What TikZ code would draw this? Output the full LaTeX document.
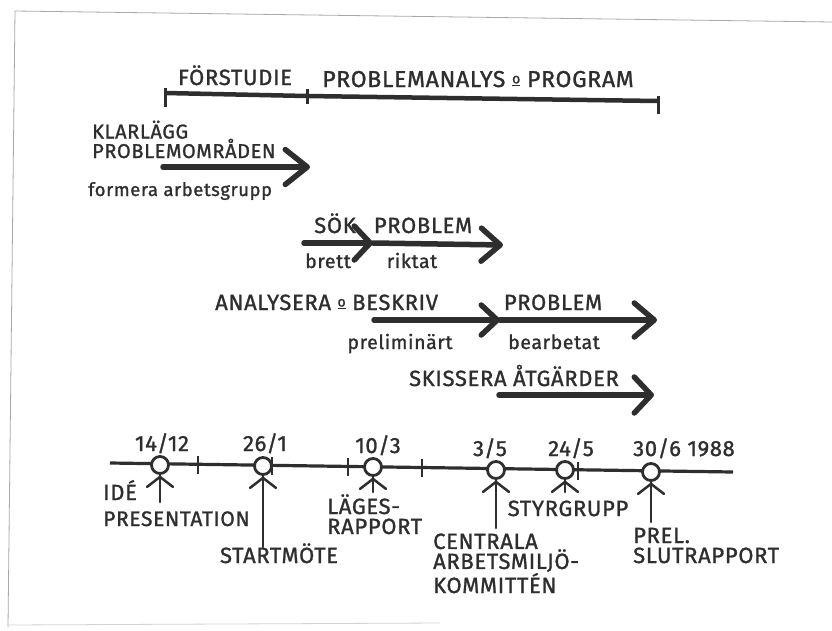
\documentclass[tikz,border=0pt]{standalone}
\usepackage{fontspec}
\setmainfont{Fira Sans}
\newfontfamily\handfont{Fira Sans}[FakeBold=1.2, LetterSpace=3]
\usetikzlibrary{arrows.meta}
\definecolor{ink}{HTML}{2E2E2E}
\definecolor{frame}{HTML}{A8A8A8}
\newcommand{\ochmark}{\raisebox{0.3ex}{\underline{\fontsize{14}{14}\selectfont o}}}
\tikzset{
  lbl/.style={inner sep=0pt, text=ink, font=\handfont\fontsize{22}{20}\selectfont},
  capsbig/.style={lbl, font=\handfont\fontsize{23}{25}\selectfont},
  lower/.style={lbl, font=\handfont\fontsize{19.5}{21}\selectfont},
  bigarrow/.style={draw=ink, line width=5.5pt, line cap=round,
    -{Straight Barb[round,length=#1]}},
  bigarrow/.default={20pt,width=34pt},
  bar/.style={draw=ink, line width=4.5pt},
  tickmark/.style={draw=ink, line width=3pt},
  tline/.style={draw=ink, line width=3.2pt},
  ttick/.style={draw=ink, line width=2.5pt},
  head/.style={circle, draw=ink, fill=white, line width=2.8pt, minimum size=17pt, inner sep=0pt},
  limb/.style={draw=ink, line width=2.5pt, line cap=round, line join=round},
  framel/.style={draw=frame, line width=0.8pt}
}
\begin{document}
\begin{tikzpicture}[x=1pt,y=-1pt]
\useasboundingbox (0,0) rectangle (832,630);
% frame
\draw[framel] (832,22) -- (15,11) -- (8,627);
\draw[framel, draw=frame!50] (8,625) -- (440,623);

% top bar
\coordinate (b0) at (165,93);
\coordinate (b1) at (307,96);
\coordinate (b2) at (658,101);
\draw[bar] (b0) -- (b1) -- (b2);
\draw[tickmark] ([yshift=-14]b0) -- ([yshift=5]b0);
\draw[tickmark] ([yshift=-8]b1) -- ([yshift=7]b1);
\draw[tickmark] ([yshift=-13]b2) -- ([yshift=5]b2);
\node[capsbig, font=\handfont\fontsize{22}{24}\selectfont, anchor=base] (forst) at (235,85) {FÖRSTUDIE};
\node[capsbig, anchor=base] (proban) at (478,87) {PROBLEMANALYS \ochmark\ PROGRAM};

% arrow 1
\node[lbl, font=\handfont\fontsize{20}{19.5}\selectfont, anchor=base west, align=left] (klar) at (92,158) {KLARLÄGG\\PROBLEMOMRÅDEN};
\coordinate (a1s) at (163,167);
\coordinate (a1e) at (310,167);
\draw[bigarrow={22pt,width=35pt}] (a1s) -- (a1e);
\node[lower, font=\handfont\fontsize{18.5}{20}\selectfont, anchor=base west] (formera) at (88,196) {formera arbetsgrupp};

% arrow 2
\node[lbl, anchor=base] (sok) at (335,233) {SÖK};
\node[lbl, anchor=base] (prob2) at (423,233) {PROBLEM};
\coordinate (a2s) at (304,243);
\coordinate (a2m) at (373,243);
\coordinate (a2e) at (503,245);
\draw[bigarrow={16pt,width=34pt}] (a2s) -- (a2m);
\draw[bigarrow={19pt,width=33pt}] (a2m) -- (a2e);
\node[lower, anchor=base] (brett) at (328,268) {brett};
\node[lower, anchor=base] (riktat) at (412,268) {riktat};

% arrow 3
\node[lbl, anchor=base west] (anal) at (215,310) {ANALYSERA \ochmark\ BESKRIV};
\node[lbl, anchor=base] (prob3) at (553,310) {PROBLEM};
\coordinate (a3s) at (374,320);
\coordinate (a3m) at (500,320);
\coordinate (a3e) at (657,320);
\draw[bigarrow={16pt,width=30pt}] (a3s) -- (a3m);
\draw[bigarrow={20pt,width=34pt}] (a3m) -- (a3e);
\node[lower, anchor=base] (prelim) at (400,349) {preliminärt};
\node[lower, anchor=base] (bearb) at (554,349) {bearbetat};

% arrow 4
\node[lbl, anchor=base] (skiss) at (514,386) {SKISSERA ÅTGÄRDER};
\coordinate (a4s) at (499,395);
\coordinate (a4e) at (654,395);
\draw[bigarrow={17pt,width=36pt}] (a4s) -- (a4e);

% timeline
\coordinate (t0) at (110,463);
\coordinate (t1) at (733,472);
\draw[tline] (t0) -- (t1);
\foreach \x/\y in {198/465, 272/466, 348/467, 422/468, 578/471}
  \draw[ttick] (\x,\y-9) -- (\x,\y+9);

\node[head] (h1) at (160,465) {};
\node[head] (h2) at (263,466) {};
\node[head] (h3) at (373,467) {};
\node[head] (h4) at (496,470) {};
\node[head] (h5) at (565,470) {};
\node[head] (h6) at (651,472) {};
\foreach \h in {h1,h2,h3,h4,h5,h6}
  \draw[limb] ([shift={(-13,12)}]\h.south) -- ([shift={(0,2)}]\h.south) -- ([shift={(13,12)}]\h.south);

% dates
\node[lbl, anchor=base] (d1) at (162,451) {14/12};
\node[lbl, anchor=base] (d2) at (265,451) {26/1};
\node[lbl, anchor=base] (d3) at (378,453) {10/3};
\node[lbl, anchor=base] (d4) at (490,456) {3/5};
\node[lbl, anchor=base] (d5) at (571,456) {24/5};
\node[lbl, anchor=base west] (d6) at (633,456) {30/6 1988};

% event labels
\node[lbl, anchor=base west] (ide) at (103,500) {IDÉ};
\node[lbl, anchor=base west, font=\handfont\fontsize{21}{20}\selectfont] (pres) at (103,526) {PRESENTATION};
\node[lbl, anchor=base] (start) at (279,563) {STARTMÖTE};
\node[lbl, anchor=base west, align=left] (lages) at (327,534) {LÄGES-\\RAPPORT};
\node[lbl, anchor=base] (styr) at (568,516) {STYRGRUPP};
\node[lbl, anchor=base west, align=left] (centr) at (433,593) {CENTRALA\\ARBETSMILJÖ-\\KOMMITTÉN};
\node[lbl, anchor=base west, align=left] (prel) at (633,563) {PREL.\\SLUTRAPPORT};

% stems
\coordinate (s1) at (160,502);
\coordinate (s3) at (373,492);
\coordinate (s4) at (496,528);
\coordinate (s5) at (565,492);
\coordinate (s6) at (651,522);
\draw[limb] (h1.south) -- (s1);
\draw[limb] (h2.south) -- ([yshift=-4]start.north -| h2.south);
\draw[limb] (h3.south) -- (s3);
\draw[limb] (h4.south) -- (s4);
\draw[limb] (h5.south) -- (s5);
\draw[limb] (h6.south) -- (s6);
\end{tikzpicture}
\end{document}
